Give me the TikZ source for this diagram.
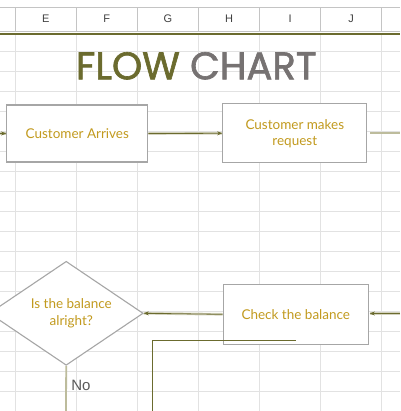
\documentclass[tikz,border=0pt]{standalone}
\usepackage{fontspec}
\setmainfont{Lato}
\newfontfamily\titlefont[FakeBold=1.6]{Poppins}
\newfontfamily\hdrfont{Liberation Sans}
\usetikzlibrary{arrows.meta,shapes.geometric}
\definecolor{gridc}{HTML}{E2E2E2}
\definecolor{hdrc}{HTML}{C4C4C4}
\definecolor{oliveD}{HTML}{6B6B2E}
\definecolor{oliveL}{HTML}{D3D2BE}
\definecolor{oliveM}{HTML}{BDBC9C}
\definecolor{gold}{HTML}{C29A1E}
\definecolor{chartgrey}{HTML}{767272}
\definecolor{boxc}{HTML}{A6A6A6}
\tikzset{
  box/.style={draw=boxc, line width=1.3pt, fill=white, text=gold, font=\fontsize{13.5}{16}\selectfont, align=center, inner sep=0pt},
  decision/.style={diamond, draw=boxc, line width=1.1pt, fill=white, inner sep=0pt},
  conn/.style={draw=oliveD, line width=0.8pt, preaction={draw=oliveL, line width=2.6pt, -}, -{Stealth[length=5pt,width=4pt]}},
  plainconn/.style={draw=oliveD, line width=0.9pt},
  lightconn/.style={draw=oliveM, line width=1.8pt},
  colhdr/.style={font=\hdrfont\fontsize{11}{13}\selectfont, text=black!75},
}
\begin{document}
\begin{tikzpicture}[x=1pt,y=-1pt]
\useasboundingbox (0,0) rectangle (400,411);
\fill[white] (0,0) rectangle (400,411);
% grid body
\foreach \y in {51,71,...,391} \draw[gridc, line width=0.8pt] (0,\y) -- (400,\y);
\foreach \x in {15.3,76.3,137.3,198.5,259.7,320.7,381.3} \draw[gridc, line width=0.8pt] (\x,34) -- (\x,411);
% header
\foreach \x in {15.3,76.3,137.3,198.5,259.7,320.7,381.3} \draw[hdrc, line width=0.8pt] (\x,7.3) -- (\x,31);
\draw[hdrc, line width=0.8pt] (0,7.3) -- (400,7.3);
\draw[hdrc, line width=0.8pt] (0,31) -- (400,31);
\draw[oliveD, line width=1.6pt] (0,34) -- (400,34);
\node[colhdr] (hE) at (45.8,19.2) {E};
\node[colhdr] (hF) at (106.8,19.2) {F};
\node[colhdr] (hG) at (167.9,19.2) {G};
\node[colhdr] (hH) at (229.1,19.2) {H};
\node[colhdr] (hI) at (290.2,19.2) {I};
\node[colhdr] (hJ) at (351,19.2) {J};
% title
\node[anchor=base, inner sep=0pt, font=\titlefont\fontsize{38.5}{40}\selectfont] (title) at (196.3,79.3)
  {\textcolor{oliveD}{FLOW} \textcolor{chartgrey}{CHART}};
% nodes
\node[box, minimum width=141pt, minimum height=57pt] (ca) at (77.3,133.5) {Customer Arrives};
\node[box, minimum width=144pt, minimum height=59pt] (cmr) at (294.8,133.3) {Customer makes\\request};
\node[box, minimum width=145pt, minimum height=60pt] (cb) at (295.8,314.3) {Check the balance};
\node[decision, minimum width=154pt, minimum height=104pt] (dec) at (66.2,313.3) {};
\node[text=gold, font=\fontsize{13.5}{16.5}\selectfont, align=center, inner sep=0pt] (dect) at (71.3,313.5) {Is the balance\\alright?};
% free ends
\coordinate (inL) at (0,133.5);
\coordinate (outR) at (400,132.7);
\coordinate (outRs) at (370,132.7);
\coordinate (inR) at (400,313.5);
\coordinate (inRe) at (369.8,313.5);
\coordinate (loopA) at (295.7,340);
\coordinate (loopB) at (152.3,340);
\coordinate (loopC) at (152.3,411);
\coordinate (noEnd) at (66,411);
% connectors
\draw[conn] (inL) -- (ca.west);
\draw[conn] (ca.east) -- (cmr.west);
\draw[lightconn] (outRs) -- (outR);
\draw[conn] (inR) -- (inRe);
\draw[conn] (cb.west) -- (dec.east);
\draw[plainconn] (loopA) -- (loopB) -- (loopC);
\draw[lightconn] (dec.south) -- (noEnd);
\node[anchor=west, font=\hdrfont\fontsize{15}{17}\selectfont, text=black!65, inner sep=0pt] (no) at (71.2,385.5) {No};
\end{tikzpicture}
\end{document}
